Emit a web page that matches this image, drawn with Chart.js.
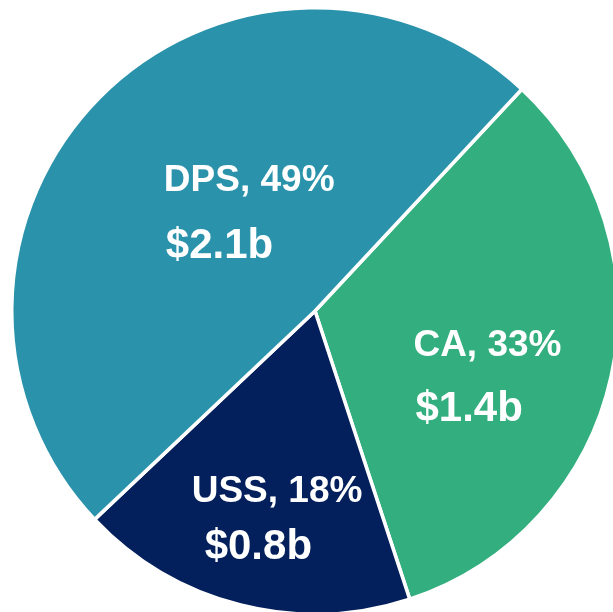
<!DOCTYPE html>
<html>
<head>
    <meta charset="utf-8" />
    <title>Segment revenue pie</title>
    <script src="https://cdn.jsdelivr.net/npm/chart.js"></script>
    <style>
        html, body { margin: 0; padding: 0; overflow: hidden; background: #fff; }
        #wrap { position: absolute; left: 10px; top: 6px; width: 610px; height: 610px; }
    </style>
</head>
<body>
    <div id="wrap">
        <canvas id="myChart"></canvas>
    </div>

    <script>
        // data
        const segments = ['CA', 'USS', 'DPS'];
        const shares = [33, 18, 49];
        const revenue = ['$1.4b', '$0.8b', '$2.1b'];
        const colors = ['#33ae7e', '#03205c', '#2a93ab'];

        // where each label sits, as offsets from the pie centre (px at radius 305)
        const labelSpots = [
            { l1: [99, 45], l2: [101, 111] },
            { l1: [-124, 192], l2: [-111, 249] },
            { l1: [-152, -121], l2: [-150, -53] }
        ];

        const sliceLabels = {
            id: 'sliceLabels',
            afterDatasetsDraw(chart) {
                const ctx = chart.ctx;
                const arcs = chart.getDatasetMeta(0).data;
                ctx.save();
                ctx.fillStyle = '#ffffff';
                ctx.textAlign = 'left';
                ctx.textBaseline = 'alphabetic';
                arcs.forEach((arc, i) => {
                    const k = arc.outerRadius / 305;
                    const spot = labelSpots[i];
                    ctx.font = 'bold 37px "Liberation Sans", Arial, sans-serif';
                    ctx.fillText(segments[i] + ', ' + shares[i] + '%', arc.x + spot.l1[0] * k, arc.y + spot.l1[1] * k);
                    ctx.font = 'bold 42px "Liberation Sans", Arial, sans-serif';
                    ctx.fillText(revenue[i], arc.x + spot.l2[0] * k, arc.y + spot.l2[1] * k);
                });
                ctx.restore();
            }
        };

        const ctx = document.getElementById('myChart').getContext('2d');
        new Chart(ctx, {
            type: 'pie',
            data: {
                labels: segments,
                datasets: [{
                    data: shares,
                    backgroundColor: colors,
                    borderColor: '#ffffff',
                    borderWidth: 3.5
                }]
            },
            options: {
                responsive: true,
                maintainAspectRatio: false,
                animation: false,
                rotation: 43,
                layout: { padding: 0 },
                plugins: {
                    legend: { display: false },
                    tooltip: { enabled: false }
                }
            },
            plugins: [sliceLabels]
        });
    </script>
</body>
</html>
